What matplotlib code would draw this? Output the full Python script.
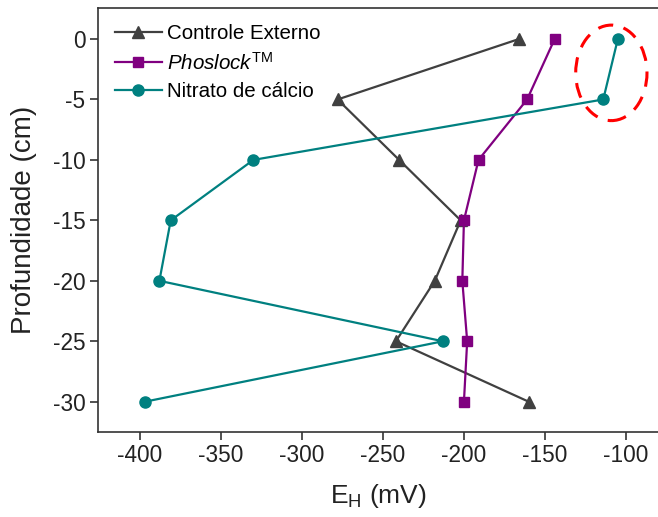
import matplotlib
matplotlib.use("Agg")
import matplotlib.pyplot as plt
from matplotlib.patches import Ellipse

plt.rcParams['font.family'] = ['Liberation Sans', 'DejaVu Sans']
plt.rcParams['mathtext.fontset'] = 'custom'
plt.rcParams['mathtext.rm'] = 'Liberation Sans'
plt.rcParams['mathtext.it'] = 'Liberation Sans:italic'
plt.rcParams['axes.unicode_minus'] = False

depth = [0, -5, -10, -15, -20, -25, -30]
controle = [-166, -278, -240, -202, -218, -242, -160]
phoslock = [-144, -161, -191, -200, -201, -198, -200]
nitrato = [-105, -114, -330, -381, -388, -213, -397]

labels = ["Controle Externo", r"$\it{Phoslock}^{\rm TM}$", "Nitrato de cálcio"]
xticks = [-400, -350, -300, -250, -200, -150, -100]
yticks = [0, -5, -10, -15, -20, -25, -30]

fig = plt.figure(figsize=(6.58, 5.17), dpi=100)
ax = fig.add_axes([98/658, (517-431.7)/517, (658-98)/658, (431.7-8.3)/517])

ax.plot(controle, depth, color='#404040', lw=1.6, marker='^', ms=9, label=labels[0])
ax.plot(phoslock, depth, color='#800080', lw=1.6, marker='s', ms=7, label=labels[1])
ax.plot(nitrato, depth, color='#008080', lw=1.6, marker='o', ms=8, label=labels[2])

ell = Ellipse((-109, -2.8), 44, 7.9, fill=False, edgecolor='#FF0000', lw=2.2,
              linestyle=(0, (5, 3.5)))
ax.add_patch(ell)

ax.set_xlim(-425.9, -80.2)
ax.set_ylim(-32.48, 2.54)
ax.set_xticks(xticks)
ax.set_yticks(yticks)
ax.tick_params(direction='out', length=5.5, width=1.1, labelsize=16.3, colors='#222222',
               labelcolor='#222222')
ax.spines['right'].set_visible(False)
for s in ['left', 'top', 'bottom']:
    ax.spines[s].set_linewidth(1.2)
    ax.spines[s].set_color('#333333')

ax.set_xlabel(r"E$_{\rm H}$ (mV)", fontsize=19, color='#222222', labelpad=11)
ax.set_ylabel("Profundidade (cm)", fontsize=20, color='#222222', labelpad=11)

leg = ax.legend(loc='upper left', bbox_to_anchor=(0.03, 0.962), frameon=False,
                fontsize=14.8, handlelength=2.3, handletextpad=0.25, borderpad=0,
                borderaxespad=0, labelspacing=0.4)

fig.savefig("out.png", dpi=100)
